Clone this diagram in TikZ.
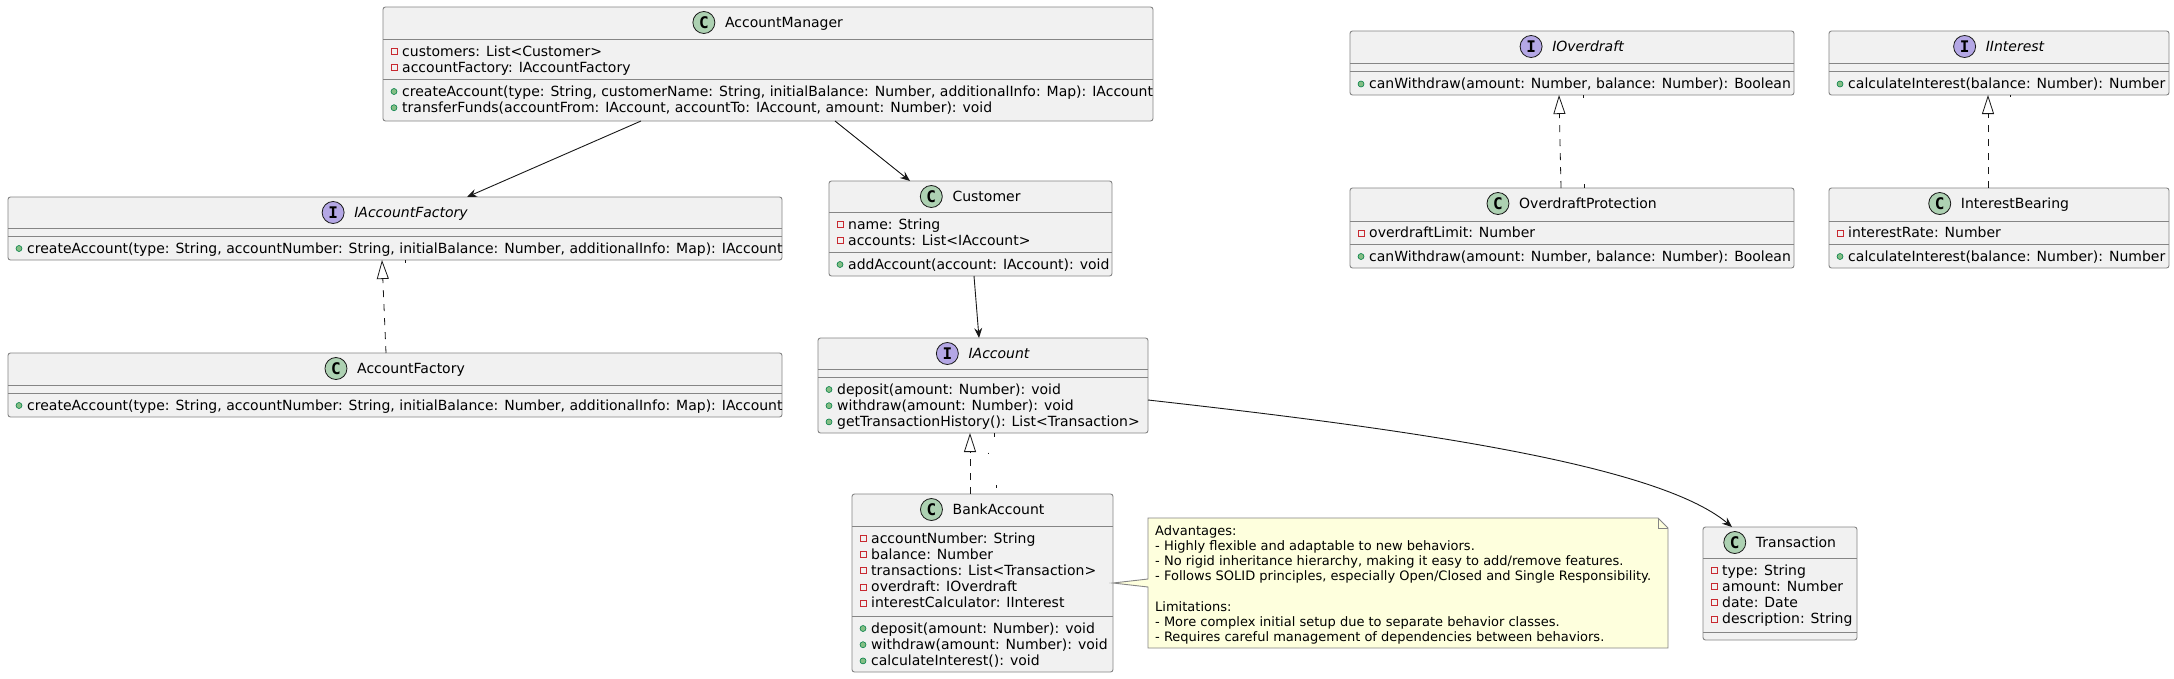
\documentclass[tikz,border=0pt]{standalone}
\usepackage{fontspec}
\setmainfont{DejaVu Sans}
\newfontfamily\iconfont{DejaVu Sans Mono}
\usetikzlibrary{arrows.meta,calc}

\definecolor{boxfill}{HTML}{F1F1F1}
\definecolor{boxline}{HTML}{181818}
\definecolor{boxedge}{HTML}{858585}
\definecolor{cicon}{HTML}{ADD1B2}
\definecolor{iicon}{HTML}{B4A7E5}
\definecolor{privred}{HTML}{C82930}
\definecolor{pubfill}{HTML}{84BE84}
\definecolor{publine}{HTML}{038048}
\definecolor{notefill}{HTML}{FEFFDD}

\tikzset{
  umlbox/.style={draw=boxedge, fill=boxfill, line width=0.9pt, rounded corners=2.5pt,
    anchor=north west, inner sep=0pt, outer sep=0pt},
  divider/.style={draw=boxedge, line width=0.9pt},
  mem/.style={anchor=base west, inner sep=0pt, font=\fontsize{14}{16}\selectfont},
  ttlC/.style={anchor=base, inner sep=0pt, font=\fontsize{14}{16}\selectfont},
  ttlI/.style={anchor=base, inner sep=0pt, font=\fontsize{14}{16}\selectfont\itshape},
  iconC/.style={circle, draw=boxline, line width=0.8pt, fill=cicon, minimum size=22pt,
    inner sep=0pt, font=\iconfont\bfseries\fontsize{16}{16}\selectfont},
  iconI/.style={circle, draw=boxline, line width=0.8pt, fill=iicon, minimum size=22pt,
    inner sep=0pt, font=\iconfont\bfseries\fontsize{16}{16}\selectfont},
  privsq/.style={draw=privred, line width=0.9pt},
  pubdot/.style={draw=publine, fill=pubfill, line width=0.6pt},
  assoc/.style={draw=boxline, line width=0.9pt, -{Stealth[length=10pt,width=8pt,inset=3.5pt]}},
  realize/.style={draw=boxline, line width=0.8pt, dash pattern=on 7pt off 7pt,
    -{Triangle[open,length=19pt,width=12pt]}},
  tick/.style={draw=boxline, line width=0.6pt},
  notebody/.style={draw=boxedge, fill=notefill, line width=0.9pt},
  notefold/.style={draw=boxedge, line width=0.9pt},
  notetxt/.style={anchor=base west, inner sep=0pt, font=\fontsize{13}{15}\selectfont},
}

\newcounter{memc}
% #1 name, #2 left, #3 top, #4 width, #5 div1, #6 div2, #7 bottom, #8 kind (C/I), #9 title
\newcommand\umlclass[9]{%
  \node[umlbox, minimum width=#4, minimum height=#7-#3] (#1) at (#2,#3) {};
  \draw[divider] (#2,#5) -- (#2+#4,#5);
  \draw[divider] (#2,#6) -- (#2+#4,#6);
  \node[ttl#8] (#1-t) at (#2+#4/2+16,#3+20.5) {#9};
  \coordinate (#1-hc) at (#2,#3+15.5);
  \node[icon#8] (#1-i) at ($(#1-t.west |- #1-hc)+(-21,0)$) {#8};
}
\newcommand\pv[3]{\stepcounter{memc}%
  \draw[privsq] (#1+8,#2-7.5) rectangle (#1+14,#2-1.5);%
  \node[mem] (mem\arabic{memc}) at (#1+19,#2) {#3};}
\newcommand\pb[3]{\stepcounter{memc}%
  \draw[pubdot] (#1+11,#2-4.5) circle (3);%
  \node[mem] (mem\arabic{memc}) at (#1+19,#2) {#3};}

\begin{document}
\begin{tikzpicture}[x=1pt,y=-1pt]
\fill[white] (0,0) rectangle (2174,678);
\useasboundingbox (0,0) rectangle (2174,678);

% AccountManager
\umlclass{am}{383}{7}{770}{39}{79}{121}{C}{AccountManager}
\pv{383}{56}{customers: List<Customer>}
\pv{383}{72.2}{accountFactory: IAccountFactory}
\pb{383}{96}{createAccount(type: String, customerName: String, initialBalance: Number, additionalInfo: Map): IAccount}
\pb{383}{112.2}{transferFunds(accountFrom: IAccount, accountTo: IAccount, amount: Number): void}

% IAccountFactory
\umlclass{iaf}{8}{197}{774}{228}{236}{260}{I}{IAccountFactory}
\pb{8}{253}{createAccount(type: String, accountNumber: String, initialBalance: Number, additionalInfo: Map): IAccount}

% AccountFactory
\umlclass{af}{8}{353}{774}{385}{393}{417}{C}{AccountFactory}
\pb{8}{410}{createAccount(type: String, accountNumber: String, initialBalance: Number, additionalInfo: Map): IAccount}

% Customer
\umlclass{cust}{829}{181}{283}{212}{252}{276}{C}{Customer}
\pv{829}{229}{name: String}
\pv{829}{245.2}{accounts: List<IAccount>}
\pb{829}{269}{addAccount(account: IAccount): void}

% IAccount
\umlclass{iacc}{818}{338}{330}{369}{377}{433}{I}{IAccount}
\pb{818}{394}{deposit(amount: Number): void}
\pb{818}{410.2}{withdraw(amount: Number): void}
\pb{818}{426.4}{getTransactionHistory(): List<Transaction>}

% BankAccount
\umlclass{bank}{852}{494}{261}{526}{616}{672}{C}{BankAccount}
\pv{852}{543}{accountNumber: String}
\pv{852}{559.2}{balance: Number}
\pv{852}{575.4}{transactions: List<Transaction>}
\pv{852}{591.6}{overdraft: IOverdraft}
\pv{852}{607.8}{interestCalculator: IInterest}
\pb{852}{633}{deposit(amount: Number): void}
\pb{852}{649.2}{withdraw(amount: Number): void}
\pb{852}{665.4}{calculateInterest(): void}

% IOverdraft
\umlclass{iod}{1350}{31}{444}{63}{71}{95}{I}{IOverdraft}
\pb{1350}{88.5}{canWithdraw(amount: Number, balance: Number): Boolean}

% OverdraftProtection
\umlclass{op}{1350}{188}{444}{221}{244}{268}{C}{OverdraftProtection}
\pv{1350}{237.5}{overdraftLimit: Number}
\pb{1350}{261}{canWithdraw(amount: Number, balance: Number): Boolean}

% IInterest
\umlclass{iint}{1829}{31}{340}{63}{71}{95}{I}{IInterest}
\pb{1829}{88.5}{calculateInterest(balance: Number): Number}

% InterestBearing
\umlclass{ib}{1829}{188}{340}{221}{244}{268}{C}{InterestBearing}
\pv{1829}{237.5}{interestRate: Number}
\pb{1829}{261}{calculateInterest(balance: Number): Number}

% Transaction
\umlclass{trans}{1703}{527}{154}{558}{632}{640}{C}{Transaction}
\pv{1703}{575}{type: String}
\pv{1703}{591.2}{amount: Number}
\pv{1703}{607.4}{date: Date}
\pv{1703}{623.6}{description: String}

% Note attached to BankAccount
\coordinate (nw) at (1148,518);
\draw[notebody] (nw) -- (1658,518) -- (1668,528) -- (1668,648) -- (1148,648)
  -- (1148,587) -- (bank.east) -- (1148,579) -- cycle;
\draw[notefold] (1658,518) -- (1658,528) -- (1668,528);
\node[notetxt] (n1) at (1155,535.5) {Advantages:};
\node[notetxt] (n2) at (1155,550.6) {- Highly flexible and adaptable to new behaviors.};
\node[notetxt] (n3) at (1155,565.7) {- No rigid inheritance hierarchy, making it easy to add/remove features.};
\node[notetxt] (n4) at (1155,580.8) {- Follows SOLID principles, especially Open/Closed and Single Responsibility.};
\node[notetxt] (n5) at (1155,611.0) {Limitations:};
\node[notetxt] (n6) at (1155,626.1) {- More complex initial setup due to separate behavior classes.};
\node[notetxt] (n7) at (1155,641.2) {- Requires careful management of dependencies between behaviors.};

% Associations
\draw[assoc] ([xshift=258pt]am.south west) -- ([xshift=459pt]iaf.north west);
\draw[assoc] ([xshift=452pt]am.south west) -- ([xshift=81pt]cust.north west);
\draw[assoc] ([xshift=145pt]cust.south west) -- ([xshift=161pt]iacc.north west);
\draw[assoc] ([yshift=-14.5pt]iacc.east) .. controls +(250,28) and +(-76,-64) .. ([xshift=29pt]trans.north west);

% Realizations
\draw[realize] ([xshift=378pt]af.north west) -- ([xshift=374pt]iaf.south west);
\draw[realize] ([xshift=118pt]bank.north west) -- ([xshift=152pt]iacc.south west);
\draw[realize] ([xshift=211pt]op.north west) -- ([xshift=209pt]iod.south west);
\draw[realize] ([xshift=159pt]ib.north west) -- ([xshift=159pt]iint.south west);

% small marks
\draw[tick] (405,260) -- (405,263);
\draw[tick] (994,433) -- (994,437);
\draw[tick] (988,452.5) -- (988,453.5);
\draw[tick] (996,485) -- (996,488);
\draw[tick] (1583,95) -- (1583,98);
\draw[tick] (1584,184) -- (1584,188);
\draw[tick] (2010,95) -- (2010,97);
\end{tikzpicture}
\end{document}
